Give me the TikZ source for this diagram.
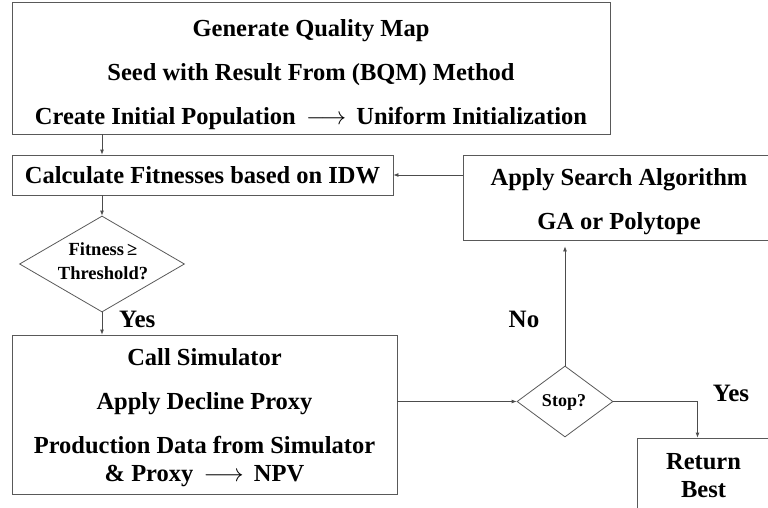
\documentclass[tikz,border=0pt]{standalone}
\usepackage{fontspec}
\setmainfont{Liberation Serif}
\usetikzlibrary{shapes.geometric,arrows.meta,calc}
\begin{document}
\begin{tikzpicture}[x=1pt,y=-1pt,
  box/.style={draw=black!65,line width=0.8pt,rectangle,inner sep=0pt},
  txt/.style={inner sep=0pt,align=center,font=\fontsize{24.5}{29}\selectfont\bfseries},
  dia/.style={draw=black!65,line width=0.8pt,diamond,inner sep=0pt},
  arr/.style={draw=black!70,line width=0.8pt,-{Latex[length=5pt,width=4pt]}},
  lab/.style={font=\fontsize{25}{29}\selectfont\bfseries,inner sep=0pt}]
\useasboundingbox (0,0) rectangle (768,508);
\clip (0,0) rectangle (768,508);
\node[box,minimum width=598,minimum height=132] (top) at (311,68) {};
\node[txt] (toptxt) at (311,75)
  {Generate Quality Map\\[15pt]Seed with Result From (BQM) Method\\[15pt]Create Initial Population \,$\longrightarrow$\, Uniform Initialization};
\node[box,minimum width=381,minimum height=40] (calc) at (202.5,175) {};
\node[txt] (calctxt) at (calc.center) {Calculate Fitnesses based on IDW};
\node[dia,minimum width=165,minimum height=96] (fit) at (102,264) {};
\node[txt,font=\fontsize{18.5}{21}\selectfont\bfseries] (fittxt) at (103,261) {Fitness\,≥\\[3pt]Threshold?};
\node[box,minimum width=385,minimum height=159] (sim) at (204.5,414.5) {};
\node[txt] (simtxt) at (204.5,418)
  {Call Simulator\\[15pt]Apply Decline Proxy\\[15pt]Production Data from Simulator\\[-1pt]\& Proxy \,$\longrightarrow$\, NPV};
\node[dia,minimum width=96,minimum height=71] (stop) at (565,401.5) {};
\node[txt,font=\fontsize{18}{21}\selectfont\bfseries] (stoptxt) at (564,402) {Stop?};
\node[box,minimum width=310,minimum height=85] (search) at (618,197.5) {};
\node[txt] (searchtxt) at (619,202) {Apply Search Algorithm\\[15pt]GA or Polytope};
\node[box,minimum width=133,minimum height=75] (ret) at (703.5,475.5) {};
\node[txt] (rettxt) at (703.5,476) {Return\\[-1pt]Best};
\coordinate (retin) at ([xshift=-6pt]ret.north);
\draw[arr] (top.south -| fit.north) -- (calc.north -| fit.north);
\draw[arr] (calc.south -| fit.north) -- (fit.north);
\draw[arr] (fit.south) -- (sim.north -| fit.south);
\node[lab,anchor=west] (yes1) at (119,319) {Yes};
\draw[arr] (stop.west -| sim.east) -- (stop.west);
\draw[arr,shorten >=6pt] (stop.north) -- (search.south -| stop.north);
\node[lab] (no) at (524,319) {No};
\draw[arr] (calc.east -| search.west) -- (calc.east);
\draw[arr] (stop.east) -- (stop.east -| retin) -- (retin);
\node[lab] (yes2) at (731,393) {Yes};
\end{tikzpicture}
\end{document}
